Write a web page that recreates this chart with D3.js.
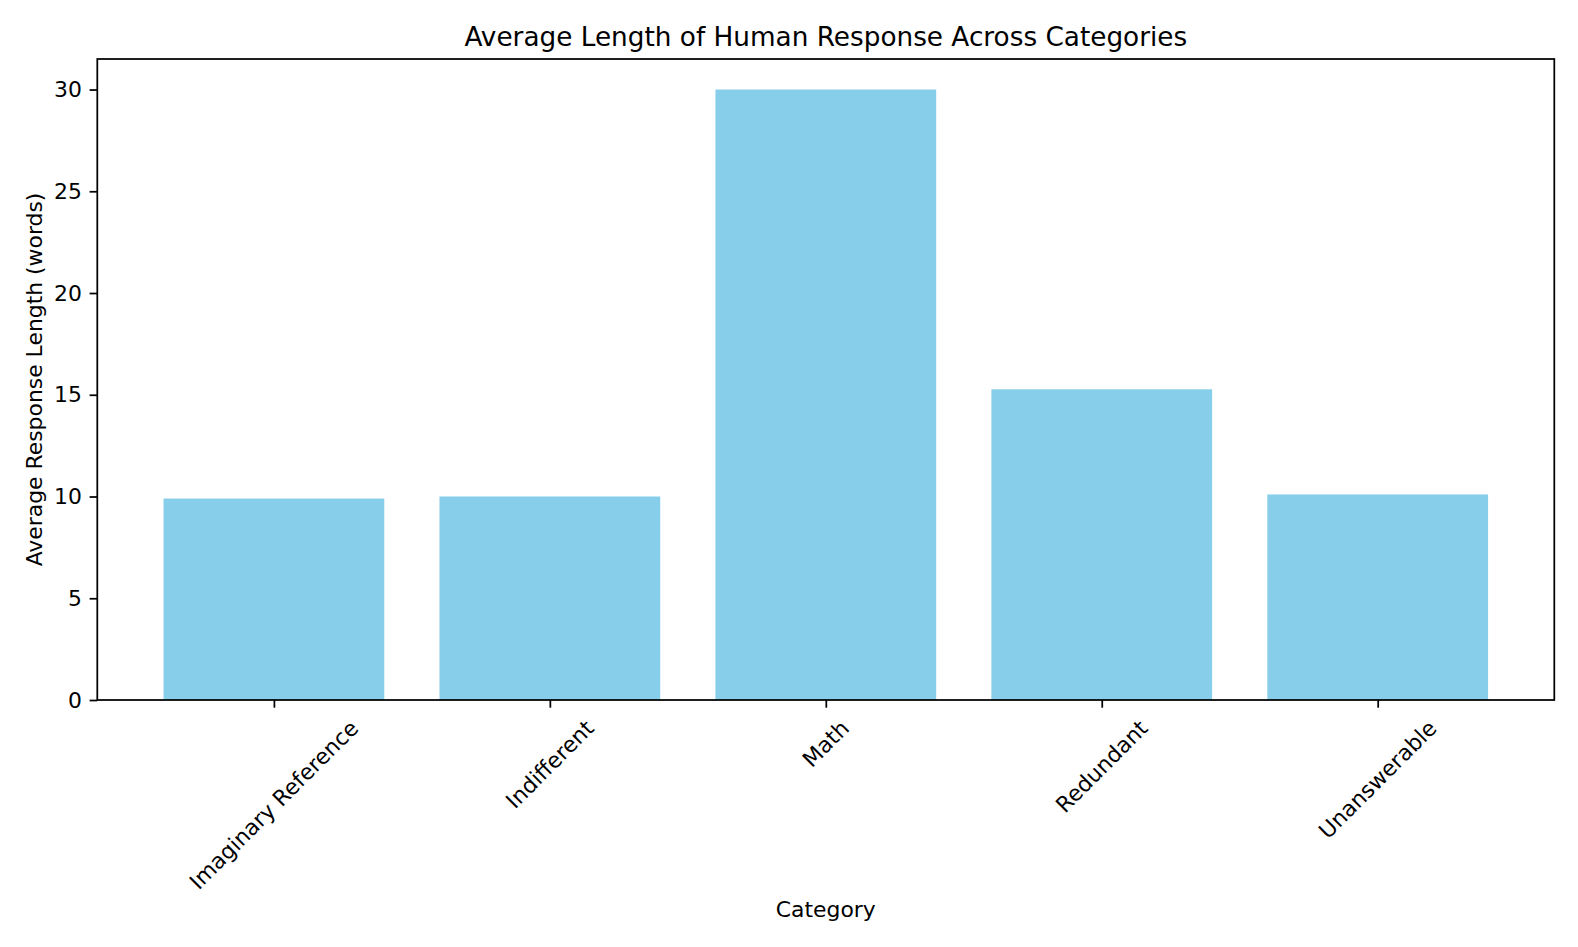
<!DOCTYPE html>
<html><head><meta charset="utf-8">
<script src="https://cdn.jsdelivr.net/npm/d3@7"></script>
<style>body{margin:0;background:#fff}svg{display:block}text{font-family:"DejaVu Sans",sans-serif;fill:#000}</style>
</head><body><svg id="c" width="1578" height="947"></svg>
<script>
const categories = ["Imaginary Reference","Indifferent","Math","Redundant","Unanswerable"];
const values = [9.9, 10.0, 30.0, 15.27, 10.1];
const yTicks = [0,5,10,15,20,25,30];

const W=1578,H=947;
const m={l:97.3,t:59,r:W-1554.3,b:H-700};
const svg=d3.select("#c");
const pw=W-m.l-m.r, ph=H-m.t-m.b;
const g=svg.append("g").attr("transform",`translate(${m.l},${m.t})`);
const x=d3.scaleLinear().domain([-0.64,categories.length-1+0.64]).range([0,pw]);
const y=d3.scaleLinear().domain([0,d3.max(values)*1.05]).range([ph,0]);
const bw=0.8;
g.selectAll("rect.bar").data(values).join("rect").attr("class","bar")
 .attr("x",(d,i)=>x(i-bw/2)).attr("width",(d,i)=>x(i+bw/2)-x(i-bw/2))
 .attr("y",d=>y(d)).attr("height",d=>y(0)-y(d)).attr("fill","#87CEEB");

const fs=21.9, tl=7.7, lw=1.75;
// y axis
const ya=g.append("g").call(d3.axisLeft(y).tickValues(yTicks).tickSize(tl).tickPadding(7.7).tickFormat(d3.format("d")));
ya.select(".domain").remove();
ya.selectAll("line").attr("stroke","#000").attr("stroke-width",lw);
ya.selectAll("text").style("font-size",fs+"px").attr("font-family","DejaVu Sans");
// x axis
const idx=categories.map((c,i)=>i);
const xa=g.append("g").attr("transform",`translate(0,${ph})`).call(d3.axisBottom(x).tickValues(idx).tickSize(tl).tickFormat(""));
xa.select(".domain").remove();
xa.selectAll("line").attr("stroke","#000").attr("stroke-width",lw);
// rotated labels
const s=Math.SQRT1_2;
categories.forEach((c,i)=>{
  const t=g.append("text").text(c).style("font-size",fs+"px").attr("text-anchor","middle").attr("dominant-baseline","central");
  const L=t.node().getComputedTextLength(); const h=fs*1.16;
  const bh=(L+h)*s;
  const cx=x(i), cy=ph+tl+7.7+bh/2;
  t.attr("x",cx).attr("y",cy).attr("transform",`rotate(-45,${cx},${cy})`);
});
// frame
g.append("rect").attr("x",0).attr("y",0).attr("width",pw).attr("height",ph).attr("fill","none").attr("stroke","#000").attr("stroke-width",lw);
// title and labels
svg.append("text").attr("x",m.l+pw/2).attr("y",46).attr("text-anchor","middle").style("font-size","26.3px").text("Average Length of Human Response Across Categories");
svg.append("text").attr("x",m.l+pw/2).attr("y",917).attr("text-anchor","middle").style("font-size",fs+"px").text("Category");
svg.append("text").attr("transform",`translate(42,${m.t+ph/2}) rotate(-90)`).attr("text-anchor","middle").style("font-size",fs+"px").text("Average Response Length (words)");
</script></body></html>
